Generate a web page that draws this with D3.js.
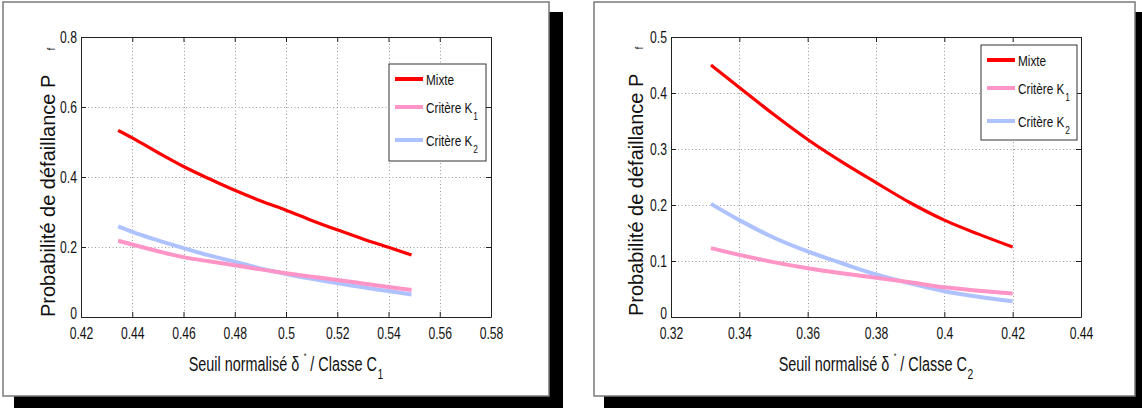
<!DOCTYPE html>
<html>
<head>
<meta charset="utf-8">
<script src="https://cdn.jsdelivr.net/npm/d3@7"></script>
<style>
  html, body { margin: 0; padding: 0; background: #fff; }
  svg { display: block; }
  text { font-family: "Liberation Sans", Arial, Helvetica, sans-serif; }
</style>
</head>
<body>
<svg id="chart" width="1142" height="408"></svg>
<script>
// ---------- data ----------
const seriesNames = ["Mixte", "Critère K", "Critère K"];
const seriesSubs = ["", "1", "2"];

// Panel 1 : Classe C1
const xC1 = [0.4345, 0.44, 0.45, 0.46, 0.47, 0.48, 0.49, 0.50, 0.51, 0.52, 0.53, 0.54, 0.549];
const mixteC1 = [0.533, 0.512, 0.470, 0.430, 0.395, 0.362, 0.332, 0.305, 0.276, 0.249, 0.223, 0.199, 0.177];
const k1C1 = [0.218, 0.207, 0.188, 0.171, 0.159, 0.148, 0.136, 0.125, 0.115, 0.106, 0.096, 0.086, 0.077];
const k2C1 = [0.259, 0.243, 0.219, 0.197, 0.176, 0.158, 0.139, 0.123, 0.109, 0.097, 0.085, 0.074, 0.064];
const xTicksC1 = [0.42, 0.44, 0.46, 0.48, 0.5, 0.52, 0.54, 0.56, 0.58];
const yTicksC1 = [0, 0.2, 0.4, 0.6, 0.8];

// Panel 2 : Classe C2
const xC2 = [0.3317, 0.34, 0.35, 0.36, 0.37, 0.38, 0.39, 0.40, 0.41, 0.42];
const mixteC2 = [0.450, 0.410, 0.362, 0.317, 0.277, 0.240, 0.204, 0.173, 0.148, 0.125];
const k1C2 = [0.123, 0.111, 0.098, 0.087, 0.078, 0.070, 0.062, 0.053, 0.047, 0.042];
const k2C2 = [0.202, 0.173, 0.142, 0.117, 0.096, 0.076, 0.060, 0.046, 0.036, 0.028];
const xTicksC2 = [0.32, 0.34, 0.36, 0.38, 0.4, 0.42, 0.44];
const yTicksC2 = [0, 0.1, 0.2, 0.3, 0.4, 0.5];

const yLabel = "Probabilité de défaillance P";
const yLabelSub = "f";
const xLabelMain = "Seuil normalisé δ";
const xLabelSup = "*";
const xLabelMid = " / Classe C";

// ---------- styles ----------
const colors = ["#ff0000", "#ff94c6", "#aec2ff"];
const widths = [3.2, 4, 4];
const SX = 0.76;   // horizontal compression to mimic narrow font

const svg = d3.select("#chart");

function fmt(v) { return v === 0 ? "0" : String(+v.toFixed(2)); }

function narrowText(parent, x, y, sx) {
  return parent.append("g").attr("transform", `translate(${x},${y}) scale(${sx},1)`)
    .append("text").attr("x", 0).attr("y", 0);
}

function panel(cfg) {
  const g = svg.append("g");
  // shadow
  g.append("rect").attr("x", cfg.shadow[0]).attr("y", cfg.shadow[1])
    .attr("width", cfg.shadow[2]).attr("height", cfg.shadow[3]).attr("fill", "#000");
  // frame
  g.append("rect").attr("x", cfg.frame[0]).attr("y", cfg.frame[1])
    .attr("width", cfg.frame[2]).attr("height", cfg.frame[3])
    .attr("fill", "#fff").attr("stroke", "#7a7a7a").attr("stroke-width", 1.5);

  const [L, T, R, B] = cfg.axes;
  const x = d3.scaleLinear().domain(cfg.xDomain).range([L, R]);
  const y = d3.scaleLinear().domain(cfg.yDomain).range([B, T]);

  // grid
  const grid = g.append("g").attr("stroke", "#9a9a9a").attr("stroke-width", 1)
    .attr("stroke-dasharray", "1,2.5");
  cfg.xTicks.slice(1, -1).forEach(t => {
    grid.append("line").attr("x1", Math.round(x(t)) + 0.5).attr("x2", Math.round(x(t)) + 0.5)
      .attr("y1", T).attr("y2", B);
  });
  cfg.yTicks.slice(1, -1).forEach(t => {
    grid.append("line").attr("y1", Math.round(y(t)) + 0.5).attr("y2", Math.round(y(t)) + 0.5)
      .attr("x1", L).attr("x2", R);
  });

  // axes (ticks inward, mirrored)
  const tickLen = 5;
  const axB = g.append("g").attr("transform", `translate(0,${B})`)
    .call(d3.axisBottom(x).tickValues(cfg.xTicks).tickSizeInner(-tickLen).tickSizeOuter(0).tickPadding(10).tickFormat(fmt));
  const axT = g.append("g").attr("transform", `translate(0,${T})`)
    .call(d3.axisTop(x).tickValues(cfg.xTicks).tickSizeInner(-tickLen).tickSizeOuter(0).tickFormat(""));
  const axL = g.append("g").attr("transform", `translate(${L},0)`)
    .call(d3.axisLeft(y).tickValues(cfg.yTicks).tickSizeInner(-tickLen).tickSizeOuter(0).tickPadding(4).tickFormat(fmt));
  const axR = g.append("g").attr("transform", `translate(${R},0)`)
    .call(d3.axisRight(y).tickValues(cfg.yTicks).tickSizeInner(-tickLen).tickSizeOuter(0).tickFormat(""));
  [axB, axT, axL, axR].forEach(a => {
    a.selectAll("path").attr("stroke", "#222").attr("stroke-width", 1);
    a.selectAll("line").attr("stroke", "#222").attr("stroke-width", 1);
    a.selectAll("text").attr("font-family", null).attr("font-size", 16).attr("fill", "#111")
      .each(function () {
        const t = d3.select(this);
        const ox = +t.attr("x") || 0;
        t.attr("x", ox / SX).attr("transform", `scale(${SX},1)`);
      });
  });
  axB.selectAll("text").attr("dy", "0.74em");
  // lift the "0" label slightly, as in the reference
  axL.selectAll(".tick text").filter(d => d === 0).attr("dy", "0.1em");

  // lines
  const line = d3.line().curve(d3.curveMonotoneX).x(d => x(d[0])).y(d => y(d[1]));
  const series = [cfg.mixte, cfg.k1, cfg.k2];
  [2, 1, 0].forEach(i => {
    const data = cfg.xs.map((v, j) => [v, series[i][j]]);
    g.append("path").datum(data).attr("d", line).attr("fill", "none")
      .attr("stroke", colors[i]).attr("stroke-width", widths[i]);
  });

  // legend
  const [lx, ly, lw, lh] = cfg.legend;
  const lg = g.append("g");
  lg.append("rect").attr("x", lx).attr("y", ly).attr("width", lw).attr("height", lh)
    .attr("fill", "#fff").attr("stroke", "#333").attr("stroke-width", 1);
  const offs = [15, 43, 76];
  seriesNames.forEach((name, i) => {
    const yy = ly + offs[i];
    lg.append("line").attr("x1", lx + 6).attr("x2", lx + 34).attr("y1", yy).attr("y2", yy)
      .attr("stroke", colors[i]).attr("stroke-width", 4);
    const t = narrowText(lg, lx + 37, yy + 5.5, SX)
      .attr("font-size", 15.5).attr("fill", "#111").text(name);
    if (seriesSubs[i]) {
      t.append("tspan").attr("font-size", 11).attr("dx", 1).attr("dy", 7).text(seriesSubs[i]);
    }
  });

  // y label
  const yl = g.append("text")
    .attr("transform", `translate(${cfg.yLabelPos[0]},${cfg.yLabelPos[1]}) rotate(-90)`)
    .attr("font-size", 20).attr("fill", "#111").attr("text-anchor", "start").text(yLabel);
  yl.append("tspan").attr("font-size", 10).attr("dx", 24).attr("dy", 0).text(yLabelSub);

  // x label
  const xl = narrowText(g, (L + R) / 2, 371, 0.74)
    .attr("text-anchor", "middle").attr("font-size", 19.5).attr("fill", "#111");
  xl.append("tspan").text(xLabelMain);
  xl.append("tspan").attr("font-size", 9).attr("dx", 6).attr("dy", -12).text(xLabelSup);
  xl.append("tspan").attr("dy", 12).text(xLabelMid);
  xl.append("tspan").attr("font-size", 14).attr("dx", 1).attr("dy", 8).text(cfg.classSub);
}

panel({
  shadow: [14, 12, 549, 400],
  frame: [3, 2, 546, 394],
  axes: [81, 37, 491, 317],
  xDomain: [0.42, 0.58], yDomain: [0, 0.8],
  xTicks: xTicksC1, yTicks: yTicksC1,
  xs: xC1, mixte: mixteC1, k1: k1C1, k2: k2C1,
  legend: [389, 64, 97, 97],
  yLabelPos: [55, 317],
  classSub: "1"
});

panel({
  shadow: [604, 12, 560, 400],
  frame: [594, 2, 541, 394],
  axes: [671, 37, 1081, 317],
  xDomain: [0.32, 0.44], yDomain: [0, 0.5],
  xTicks: xTicksC2, yTicks: yTicksC2,
  xs: xC2, mixte: mixteC2, k1: k1C2, k2: k2C2,
  legend: [981, 45, 96, 95],
  yLabelPos: [643, 316],
  classSub: "2"
});
</script>
</body>
</html>
